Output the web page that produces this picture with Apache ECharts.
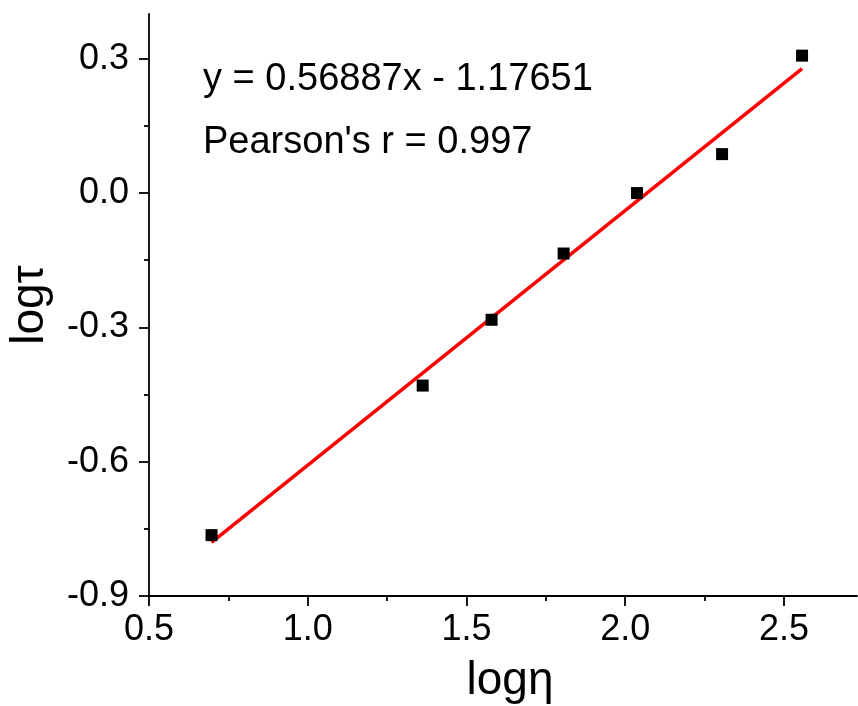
<!DOCTYPE html>
<html>
<head>
<meta charset="utf-8">
<script src="https://cdn.jsdelivr.net/npm/echarts@6/dist/echarts.min.js"></script>
<style>
  html, body { margin: 0; padding: 0; background: #fff; }
  #chart { width: 858px; height: 706px; }
</style>
</head>
<body>
<div id="chart"></div>
<script>
// Measured points: log(viscosity) vs log(relaxation time)
const logEta = [0.697, 1.362, 1.579, 1.806, 2.037, 2.305, 2.557];
const logTau = [-0.764, -0.430, -0.283, -0.135, 0.000, 0.087, 0.307];

// Linear fit reported on the chart
const fitSlope = 0.56887;
const fitIntercept = -1.17651;
const pearsonR = 0.997;

// Axis ticks
const xMajorTicks = [0.5, 1.0, 1.5, 2.0, 2.5];
const xMinorTicks = [0.75, 1.25, 1.75, 2.25];
const yMajorTicks = [-0.9, -0.6, -0.3, 0.0, 0.3];
const yMinorTicks = [-0.75, -0.45, -0.15, 0.15];

const FONT = "'Liberation Sans', Arial, Helvetica, sans-serif";

const xFitStart = Math.min(...logEta);
const xFitEnd = Math.max(...logEta);
const fitLine = [
  [xFitStart, fitSlope * xFitStart + fitIntercept],
  [xFitEnd, fitSlope * xFitEnd + fitIntercept]
];

const points = logEta.map((x, i) => [x, logTau[i]]);

const X_MIN = 0.5, X_MAX = 2.73, Y_MIN = -0.9, Y_MAX = 0.4;

const axisLineStyle = { color: '#000', width: 1.8 };

const chart = echarts.init(document.getElementById('chart'), null, { renderer: 'canvas' });
chart.setOption({
  backgroundColor: '#fff',
  animation: false,
  grid: { left: 149, right: 1, top: 14, bottom: 110, containLabel: false, outerBoundsMode: 'none' },
  xAxis: [
    {
      type: 'value', min: X_MIN, max: X_MAX, interval: 0.5,
      name: 'logη', nameLocation: 'middle', nameGap: 62,
      nameTextStyle: { fontFamily: FONT, fontSize: 46, color: '#000', padding: [0, 0, 0, 14] },
      axisLine: { show: true, onZero: false, lineStyle: axisLineStyle },
      axisTick: { show: true, inside: false, length: 10, lineStyle: axisLineStyle, customValues: xMajorTicks },
      axisLabel: {
        show: true, margin: 16, fontFamily: FONT, fontSize: 36, color: '#000',
        customValues: xMajorTicks,
        formatter: v => v.toFixed(1)
      },
      splitLine: { show: false }
    },
    {
      type: 'value', min: X_MIN, max: X_MAX, position: 'bottom',
      axisLine: { show: false, onZero: false },
      axisTick: { show: true, inside: false, length: 5, lineStyle: axisLineStyle, customValues: xMinorTicks },
      axisLabel: { show: false },
      splitLine: { show: false }
    }
  ],
  yAxis: [
    {
      type: 'value', min: Y_MIN, max: Y_MAX, interval: 0.3,
      name: 'logτ', nameLocation: 'middle', nameGap: 96, nameRotate: 90,
      nameTextStyle: { fontFamily: FONT, fontSize: 46, color: '#000' },
      axisLine: { show: true, onZero: false, lineStyle: axisLineStyle },
      axisTick: { show: true, inside: false, length: 10, lineStyle: axisLineStyle, customValues: yMajorTicks },
      axisLabel: {
        show: true, margin: 20, fontFamily: FONT, fontSize: 36, color: '#000',
        customValues: yMajorTicks,
        formatter: v => v.toFixed(1)
      },
      splitLine: { show: false }
    },
    {
      type: 'value', min: Y_MIN, max: Y_MAX, position: 'left',
      axisLine: { show: false, onZero: false },
      axisTick: { show: true, inside: false, length: 5, lineStyle: axisLineStyle, customValues: yMinorTicks },
      axisLabel: { show: false },
      splitLine: { show: false }
    }
  ],
  series: [
    {
      name: 'Linear fit',
      type: 'line',
      data: fitLine,
      showSymbol: false,
      symbol: 'none',
      lineStyle: { color: '#ff0000', width: 3.5 },
      z: 2
    },
    {
      name: 'logτ',
      type: 'scatter',
      data: points,
      symbol: 'rect',
      symbolSize: 12,
      itemStyle: { color: '#000', opacity: 1 },
      z: 3
    }
  ],
  graphic: [
    {
      type: 'text', left: 203, top: 61,
      style: {
        text: 'y = ' + fitSlope.toFixed(5) + 'x - ' + Math.abs(fitIntercept).toFixed(5),
        font: '38px ' + FONT, fill: '#000'
      }
    },
    {
      type: 'text', left: 203, top: 124,
      style: {
        text: "Pearson's r = " + pearsonR.toFixed(3),
        font: '38px ' + FONT, fill: '#000'
      }
    }
  ]
});
</script>
</body>
</html>
